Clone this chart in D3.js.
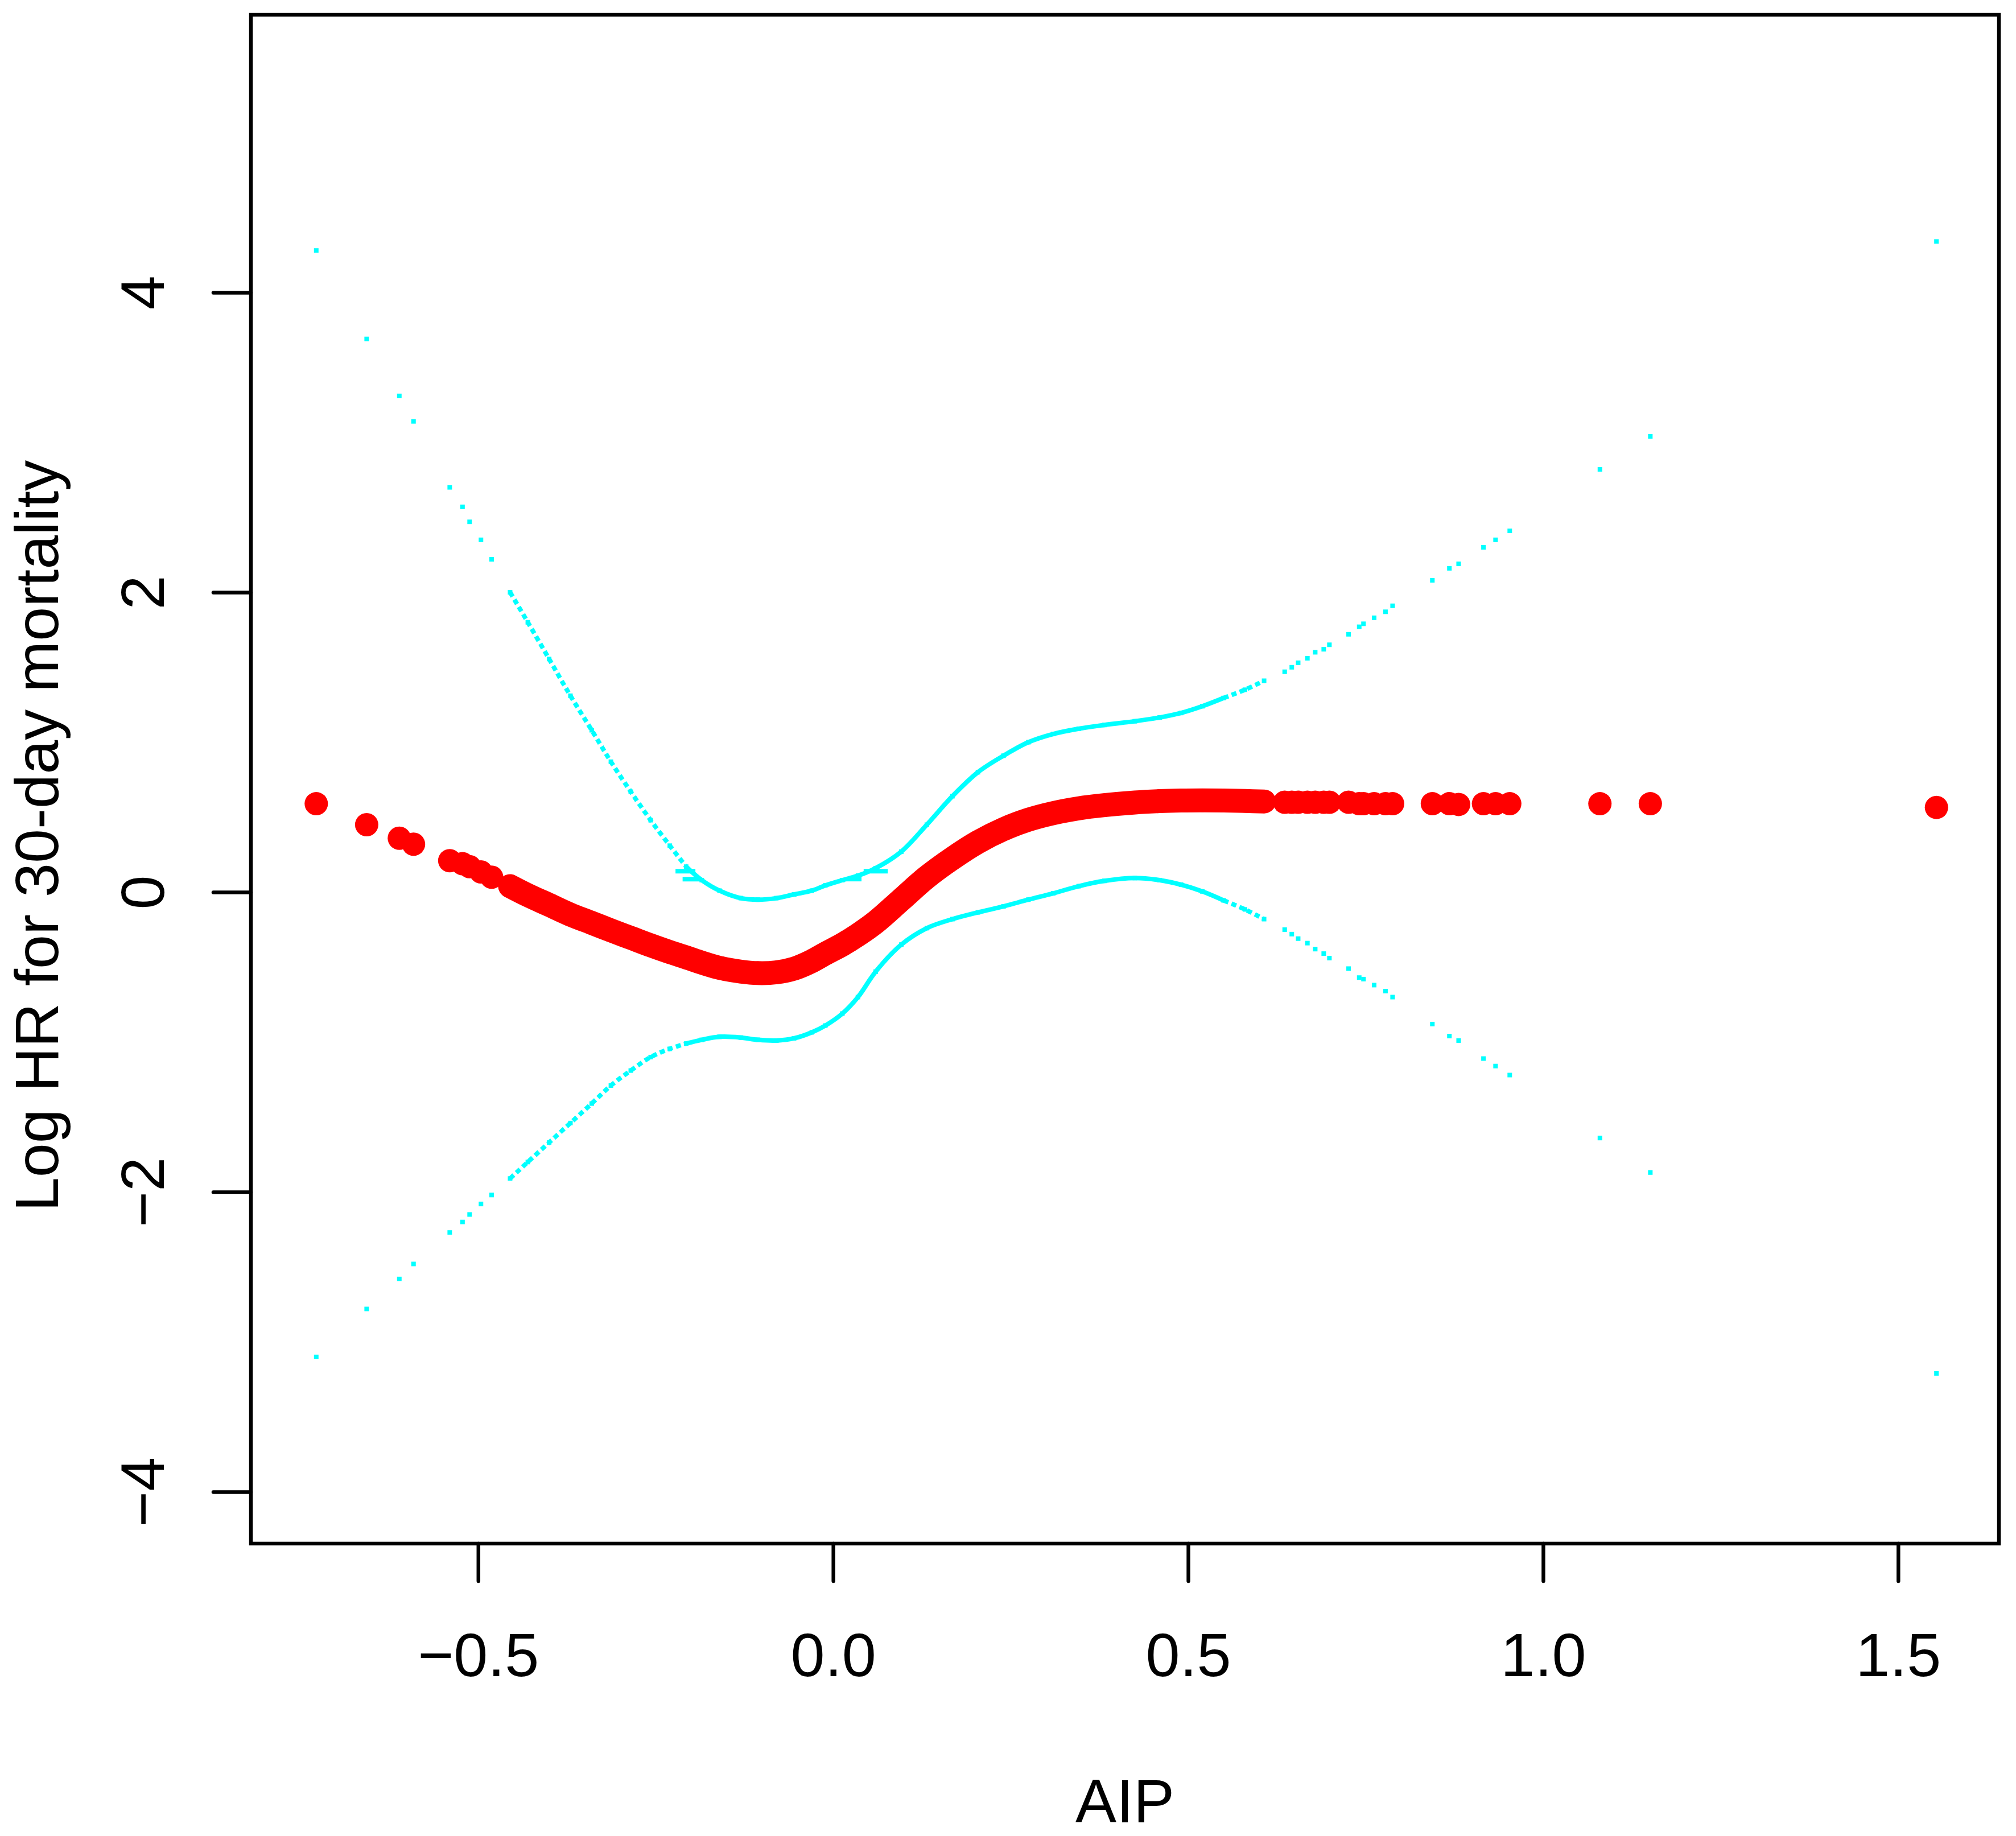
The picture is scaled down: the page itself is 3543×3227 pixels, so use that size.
<!DOCTYPE html>
<html>
<head>
<meta charset="utf-8">
<script src="https://cdn.jsdelivr.net/npm/d3@7"></script>
<style>
    html, body { margin: 0; padding: 0; background: #fff; }
    svg { display: block; }
    text { font-family: 'Liberation Sans', Arial, sans-serif; fill: #000; }
</style>
</head>
<body>
<svg id="chart"></svg>
<script>
// AIP values of the plotted points (left tail, dense middle, right tail)
const aip = [
    -0.728, -0.657, -0.611, -0.591, -0.540, -0.522, -0.512, -0.496, -0.481,
    -0.455, -0.430, -0.400, -0.370, -0.340, -0.313, -0.285, -0.257, -0.230, -0.207,
    -0.185, -0.160, -0.130, -0.106, -0.080, -0.055, -0.030, -0.011, 0.013, 0.035,
    0.060, 0.096, 0.132, 0.168, 0.204, 0.240, 0.275, 0.310, 0.346, 0.382,
    0.425, 0.460, 0.490, 0.520, 0.550, 0.580, 0.607,
    0.636, 0.646, 0.655, 0.668, 0.679, 0.691, 0.699, 0.726, 0.741, 0.747,
    0.762, 0.778, 0.788, 0.844, 0.868, 0.881, 0.916, 0.933, 0.953, 1.080, 1.151, 1.554
];
const logHR = [
    0.59, 0.45, 0.36, 0.32, 0.21, 0.19, 0.17, 0.135, 0.10,
    0.04, -0.02, -0.085, -0.15, -0.205, -0.255, -0.305, -0.355, -0.40, -0.435,
    -0.47, -0.505, -0.53, -0.54, -0.535, -0.51, -0.46, -0.41, -0.35, -0.285,
    -0.20, -0.05, 0.10, 0.225, 0.334, 0.42, 0.483, 0.527, 0.559, 0.58,
    0.598, 0.607, 0.611, 0.612, 0.611, 0.608, 0.605,
    0.60, 0.60, 0.60, 0.60, 0.60, 0.60, 0.60, 0.60, 0.59, 0.59,
    0.59, 0.59, 0.59, 0.59, 0.59, 0.585, 0.59, 0.59, 0.59, 0.59, 0.59, 0.565
];
const lower = [
    -3.10, -2.78, -2.58, -2.48, -2.27, -2.20, -2.15, -2.08, -2.02,
    -1.91, -1.80, -1.67, -1.54, -1.41, -1.29, -1.19, -1.10, -1.045, -1.01,
    -0.985, -0.965, -0.97, -0.985, -0.99, -0.975, -0.935, -0.89, -0.81, -0.70,
    -0.53, -0.35, -0.24, -0.18, -0.135, -0.095, -0.05, -0.008, 0.04, 0.075,
    0.094, 0.08, 0.05, 0.005, -0.055, -0.115, -0.18,
    -0.25, -0.28, -0.31, -0.34, -0.38, -0.41, -0.44, -0.51, -0.57, -0.58,
    -0.62, -0.66, -0.70, -0.88, -0.96, -0.99, -1.11, -1.16, -1.22, -1.64, -1.87, -3.21
];
const upper = [
    4.28, 3.69, 3.31, 3.14, 2.70, 2.57, 2.47, 2.35, 2.22,
    2.00, 1.80, 1.555, 1.31, 1.08, 0.87, 0.67, 0.48, 0.31, 0.17,
    0.08, 0.01, -0.04, -0.05, -0.04, -0.015, 0.01, 0.045, 0.08, 0.11,
    0.16, 0.27, 0.45, 0.64, 0.80, 0.91, 1.00, 1.055, 1.09, 1.115,
    1.14, 1.165, 1.195, 1.24, 1.295, 1.35, 1.41,
    1.47, 1.50, 1.53, 1.56, 1.60, 1.62, 1.65, 1.72, 1.77, 1.79,
    1.83, 1.87, 1.91, 2.08, 2.16, 2.19, 2.30, 2.35, 2.41, 2.82, 3.04, 4.34
];
// short flat cyan strokes near the upper band ends
const flatX1 = [-0.222, -0.212, 0.018, 0.043];
const flatX2 = [-0.194, -0.185, 0.040, 0.077];
const flatY = [0.14, 0.087, 0.087, 0.14];

const xTicks = [-0.5, 0.0, 0.5, 1.0, 1.5];
const yTicks = [-4, -2, 0, 2, 4];
const xLabel = 'AIP';
const yLabel = 'Log HR for 30-day mortality';

const denseFrom = -0.455, denseTo = 0.607, solidFrom = -0.207, solidTo = 0.55;

const width = 3543, height = 3227;
const box = { left: 441, right: 3513, top: 26, bottom: 2713 };

const svg = d3.select('#chart')
    .attr('width', width)
    .attr('height', height);

const x = d3.scaleLinear().domain([-0.82, 1.642]).range([box.left, box.right]);
const y = d3.scaleLinear().domain([-4.345, 5.852]).range([box.bottom, box.top]);

const pts = aip.map((v, i) => ({ x: v, fit: logHR[i], lo: lower[i], hi: upper[i] }));
const dense = pts.filter(d => d.x >= denseFrom && d.x <= denseTo);
const dottedLeft = dense.filter(d => d.x <= solidFrom);
const dottedRight = dense.filter(d => d.x >= solidTo);
const solid = dense.filter(d => d.x >= solidFrom && d.x <= solidTo);

const minus = v => d3.format('.1f')(v).replace('-', '\u2212');

// confidence band (cyan)
const ciLine = key => d3.line()
    .x(d => x(d.x))
    .y(d => y(d[key]))
    .curve(d3.curveCatmullRom.alpha(0.5));

['lo', 'hi'].forEach(key => {
    svg.append('path')
        .datum(solid)
        .attr('d', ciLine(key))
        .attr('fill', 'none')
        .attr('stroke', '#00ffff')
        .attr('stroke-width', 8);
    [dottedLeft, dottedRight].forEach(part => {
        svg.append('path')
            .datum(part)
            .attr('d', ciLine(key))
            .attr('fill', 'none')
            .attr('stroke', '#00ffff')
            .attr('stroke-width', 8)
            .attr('stroke-dasharray', '9,6');
    });
    svg.selectAll(null)
        .data(pts)
        .enter().append('rect')
        .attr('x', d => x(d.x) - 4)
        .attr('y', d => y(d[key]) - 4)
        .attr('width', 8)
        .attr('height', 8)
        .attr('fill', '#00ffff');
});

svg.selectAll(null)
    .data(flatY)
    .enter().append('line')
    .attr('x1', (d, i) => x(flatX1[i]))
    .attr('x2', (d, i) => x(flatX2[i]))
    .attr('y1', d => y(d))
    .attr('y2', d => y(d))
    .attr('stroke', '#00ffff')
    .attr('stroke-width', 8);

// fitted log HR (red)
svg.append('path')
    .datum(dense)
    .attr('d', d3.line().x(d => x(d.x)).y(d => y(d.fit)).curve(d3.curveCatmullRom.alpha(0.5)))
    .attr('fill', 'none')
    .attr('stroke', '#ff0000')
    .attr('stroke-width', 42)
    .attr('stroke-linecap', 'round')
    .attr('stroke-linejoin', 'round');

svg.selectAll(null)
    .data(pts)
    .enter().append('circle')
    .attr('cx', d => x(d.x))
    .attr('cy', d => y(d.fit))
    .attr('r', 20.5)
    .attr('fill', '#ff0000');

// axes
const xAxis = svg.append('g')
    .attr('transform', `translate(0,${box.bottom})`)
    .call(d3.axisBottom(x).tickValues(xTicks).tickSize(66).tickFormat(minus));

const yAxis = svg.append('g')
    .attr('transform', `translate(${box.left},0)`)
    .call(d3.axisLeft(y).tickValues(yTicks).tickSize(66).tickFormat(d => String(d).replace('-', '\u2212')));

[xAxis, yAxis].forEach(g => {
    g.select('.domain').remove();
    g.selectAll('.tick line')
        .attr('stroke', '#000')
        .attr('stroke-width', 6.5)
        .attr('stroke-linecap', 'round');
    g.selectAll('.tick text')
        .style('font-family', "'Liberation Sans', Arial, sans-serif")
        .style('font-size', '108px')
        .attr('fill', '#000');
});

xAxis.selectAll('.tick text')
    .attr('y', 2946 - box.bottom)
    .attr('dy', 0);

yAxis.selectAll('.tick text')
    .attr('x', 0)
    .attr('dy', 0)
    .attr('text-anchor', 'middle')
    .attr('transform', `translate(${288 - box.left},0) rotate(-90)`);

// frame
svg.append('rect')
    .attr('x', box.left)
    .attr('y', box.top)
    .attr('width', box.right - box.left)
    .attr('height', box.bottom - box.top)
    .attr('fill', 'none')
    .attr('stroke', '#000')
    .attr('stroke-width', 6.5);

// titles
svg.append('text')
    .attr('x', (box.left + box.right) / 2)
    .attr('y', 3203)
    .attr('text-anchor', 'middle')
    .style('font-size', '108px')
    .text(xLabel);

svg.append('text')
    .attr('transform', `translate(102,1469) rotate(-90)`)
    .attr('text-anchor', 'middle')
    .style('font-size', '108px')
    .text(yLabel);
</script>
</body>
</html>
